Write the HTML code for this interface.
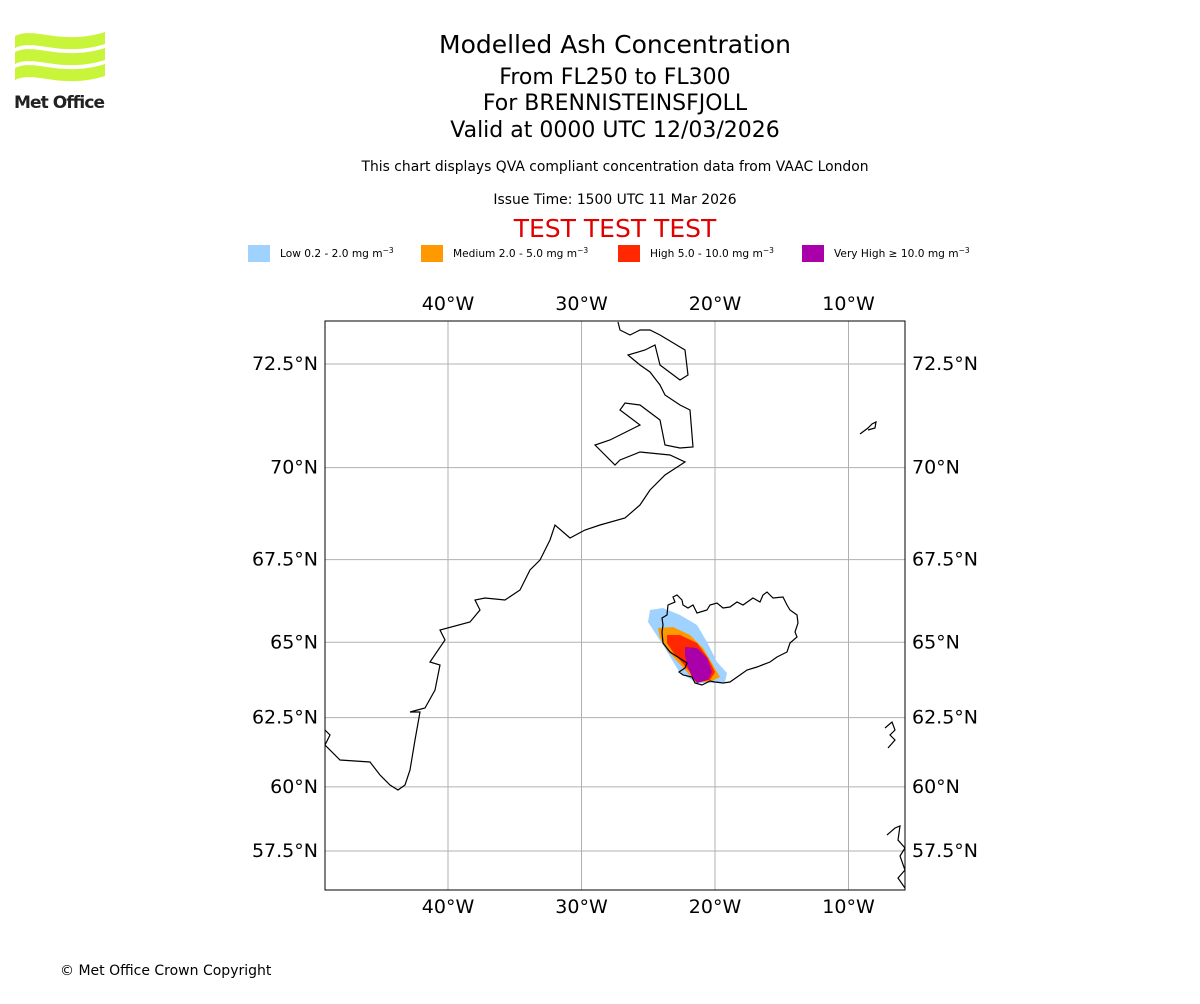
<!DOCTYPE html>
<html><head><meta charset="utf-8"><style>
body{margin:0;background:#fff;width:1200px;height:1000px;overflow:hidden;font-family:"DejaVu Sans","Liberation Sans",sans-serif;}
svg text{font-family:"DejaVu Sans","Liberation Sans",sans-serif;}
</style></head><body>
<svg width="1200" height="1000" xmlns="http://www.w3.org/2000/svg">
<g>
<path d="M15,36 C35,26 60,46 105,32 L105,44 C60,58 35,38 15,48Z" fill="#c8f53a"/>
<path d="M15,52 C35,42 60,62 105,48 L105,60 C60,74 35,54 15,64Z" fill="#c8f53a"/>
<path d="M15,68 C35,58 60,78 105,64 L105,76 C60,90 35,70 15,80Z" fill="#c8f53a"/>
<text x="14" y="108" font-size="17" font-weight="bold" fill="#222" font-family="Liberation Sans" textLength="91">Met Office</text>
</g>
<text x="615" y="53" font-size="25" text-anchor="middle">Modelled Ash Concentration</text>
<text x="615" y="84" font-size="22" text-anchor="middle">From FL250 to FL300</text>
<text x="615" y="110" font-size="22" text-anchor="middle">For BRENNISTEINSFJOLL</text>
<text x="615" y="137" font-size="22" text-anchor="middle">Valid at 0000 UTC 12/03/2026</text>
<text x="615" y="171" font-size="13.9" text-anchor="middle">This chart displays QVA compliant concentration data from VAAC London</text>
<text x="615" y="204" font-size="13.9" text-anchor="middle">Issue Time: 1500 UTC 11 Mar 2026</text>
<text x="615" y="237" font-size="25" text-anchor="middle" fill="#e00000">TEST TEST TEST</text>
<g font-size="10.6">
<rect x="248" y="245" width="22" height="17" fill="#a0d2ff"/>
<text x="280" y="257">Low 0.2 - 2.0 mg m<tspan dy="-4" font-size="7.5">−3</tspan></text>
<rect x="421" y="245" width="22" height="17" fill="#ff9900"/>
<text x="453" y="257">Medium 2.0 - 5.0 mg m<tspan dy="-4" font-size="7.5">−3</tspan></text>
<rect x="618" y="245" width="22" height="17" fill="#ff2800"/>
<text x="650" y="257">High 5.0 - 10.0 mg m<tspan dy="-4" font-size="7.5">−3</tspan></text>
<rect x="802" y="245" width="22" height="17" fill="#aa00aa"/>
<text x="834" y="257">Very High  ≥  10.0 mg m<tspan dy="-4" font-size="7.5">−3</tspan></text>
</g>
<defs><clipPath id="mc"><rect x="325" y="321" width="580" height="569"/></clipPath></defs>
<g id="grid"></g>
<g id="ticks" font-size="19"></g>
<g clip-path="url(#mc)" fill="none" stroke="#000" stroke-width="1.2">
<polygon fill="#a0d2ff" stroke="none" points="650,610 663,608 680,615 697,625 707,642 717,662 727,673 725,682 713,683 697,683 680,673 663,645 648,622"/>
<polygon fill="#ff9900" stroke="none" points="658,628 673,627 690,635 703,648 713,665 720,677 710,682 695,682 687,672 667,650 660,638"/>
<polygon fill="#ff2800" stroke="none" points="667,635 680,635 697,643 708,658 715,672 710,680 697,682 690,672 673,652 667,643"/>
<polygon fill="#aa00aa" stroke="none" points="685,647 697,648 707,658 712,672 708,680 697,683 692,677 687,665 685,655"/>
<polyline points="325,730 330,735 325,745 340,760 370,762 380,775 390,785 398,790 405,785 410,770 415,740 420,712 410,712 425,708 435,690 440,665 430,662 445,640 440,630 470,622 480,610 475,600 485,598 505,600 520,590 530,570 540,560 550,540 555,525 570,538 585,530 600,525 625,518 640,505 650,490 665,475 685,462 670,455 640,452 620,460 615,465 600,450 595,445 610,440 630,430 640,425 620,410 625,403 640,405 660,420 665,445 680,448 693,447 690,410 680,405 665,395 660,385 650,372 640,365 628,355 645,350 655,345 660,365 680,380 688,375 685,350 660,335 650,330 640,330 630,335 620,330 618,322"/>
<polygon points="662,618 667,615 668,605 675,602 673,597 677,595 682,600 683,605 688,608 693,605 697,613 707,610 710,605 717,603 723,608 730,607 737,602 743,605 753,598 760,602 763,595 767,592 773,598 783,597 787,605 790,610 797,615 798,623 795,632 797,637 790,643 787,652 777,657 770,662 757,667 747,670 740,675 730,682 723,683 715,682 710,681 702,685 695,683 692,677 683,675 679,672 685,668 687,663 670,652 663,643 662,632 663,625"/>
<polyline points="860,434 868,428 872,424 876,422 875,428 868,430"/>
<polyline points="885,728 892,722 895,730 890,735 895,740 888,748"/>
<polyline points="887,835 895,828 900,826 898,840 905,848 900,856 905,870 898,878 905,888"/>
</g>
<rect x="325" y="321" width="580" height="569" fill="none" stroke="#000" stroke-width="1"/>
<text x="60" y="975" font-size="14">© Met Office Crown Copyright</text>
</svg>
<script>
const lonTicks=[-40,-30,-20,-10];
const latTicks=[72.5,70,67.5,65,62.5,60,57.5];
const lonLabels=["40°W","30°W","20°W","10°W"];
const latLabels=["72.5°N","70°N","67.5°N","65°N","62.5°N","60°N","57.5°N"];
const NS="http://www.w3.org/2000/svg";
function merc(l){return Math.log(Math.tan(Math.PI/4+l*Math.PI/360));}
function xOf(lon){return 448+(lon+40)*13.35;}
function yOf(lat){return 364+762.7*(merc(72.5)-merc(lat));}
const g=document.getElementById('grid'),t=document.getElementById('ticks');
function mk(p,tag,a){const e=document.createElementNS(NS,tag);for(const k in a)e.setAttribute(k,a[k]);p.appendChild(e);return e;}
lonTicks.forEach((lon,i)=>{const x=xOf(lon);
const l=mk(g,'line',{x1:x,x2:x,y1:321,y2:890,stroke:'#b0b0b0','stroke-width':1});


[310,913].forEach(y=>{const e=mk(t,'text',{x:x,y:y,'text-anchor':'middle'});e.textContent=lonLabels[i];

});});
latTicks.forEach((lat,i)=>{const y=yOf(lat);
const l=mk(g,'line',{x1:325,x2:905,y1:y,y2:y,stroke:'#b0b0b0','stroke-width':1});


const a=mk(t,'text',{x:318,y:y+6,'text-anchor':'end'});a.textContent=latLabels[i];


const b=mk(t,'text',{x:912,y:y+6});b.textContent=latLabels[i];

});
</script>
</body></html>
